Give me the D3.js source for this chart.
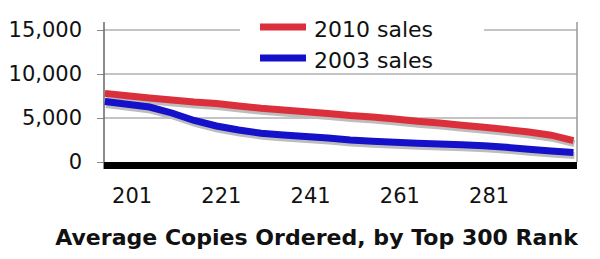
<!DOCTYPE html>
<html>
<head>
    <script src="https://d3js.org/d3.v7.min.js"></script>
    <style>
        body { margin: 0; background: #fff; }
        text { font-family: 'DejaVu Sans', Verdana, sans-serif; fill: #111; }
        .tick text { font-size: 21px; }
        .legend text { font-size: 22px; }
        .title { font-size: 21px; font-weight: bold; }
    </style>
</head>
<body>
<svg id="chart" width="600" height="259"></svg>
<script>
    // ranks read every 5 places off the picture
    const ranks = [195, 200, 205, 210, 215, 220, 225, 230, 235, 240, 245,
                   250, 255, 260, 265, 270, 275, 280, 285, 290, 295, 300];
    const sales2010 = [7800, 7530, 7270, 7050, 6820, 6650, 6360, 6100, 5910, 5700, 5510,
                       5280, 5110, 4890, 4620, 4430, 4170, 3950, 3690, 3410, 3050, 2440];
    const sales2003 = [6880, 6570, 6250, 5570, 4720, 4090, 3640, 3270, 3070, 2900, 2730,
                       2500, 2360, 2240, 2140, 2050, 1950, 1840, 1670, 1440, 1250, 1080];
    const xTicks = [201, 221, 241, 261, 281];
    const yTicks = [0, 5000, 10000, 15000];
    const seriesNames = ["2010 sales", "2003 sales"];
    const seriesColors = ["#dc2f3c", "#1510c9"];

    const svg = d3.select("#chart");
    const plotLeft = 104, plotRight = 577, plotTop = 22;

    const x = d3.scaleLinear().domain([194.8, 300.8]).range([plotLeft, plotRight]);
    const y = d3.scaleLinear().domain([0, 15000]).range([162, 30]);

    // gridlines
    svg.append("g")
        .selectAll("line")
        .data(yTicks.filter(d => d > 0))
        .join("line")
        .attr("x1", plotLeft).attr("x2", plotRight)
        .attr("y1", d => y(d)).attr("y2", d => y(d))
        .attr("stroke", "#8a8a8a").attr("stroke-width", 1);

    // y axis
    const yAxis = svg.append("g")
        .attr("transform", `translate(${plotLeft},0)`)
        .call(d3.axisLeft(y).tickValues(yTicks).tickFormat(d3.format(",")).tickSize(7).tickPadding(15));
    yAxis.select(".domain").remove();
    yAxis.selectAll(".tick line").attr("stroke", "#8a8a8a");
    yAxis.selectAll(".tick text").attr("fill", "#111");

    // frame lines
    svg.append("line").attr("x1", plotLeft).attr("x2", plotLeft).attr("y1", plotTop).attr("y2", y(0) + 7)
        .attr("stroke", "#666").attr("stroke-width", 1.5);
    svg.append("line").attr("x1", plotRight).attr("x2", plotRight).attr("y1", plotTop).attr("y2", y(0))
        .attr("stroke", "#999").attr("stroke-width", 1.5);

    // x axis labels
    const xAxis = svg.append("g")
        .attr("transform", `translate(0,${y(0)})`)
        .call(d3.axisBottom(x).tickValues(xTicks).tickSize(0).tickPadding(26));
    xAxis.select(".domain").remove();
    xAxis.selectAll(".tick text").attr("fill", "#111");

    // thick black base
    svg.append("line")
        .attr("x1", plotLeft).attr("x2", plotRight)
        .attr("y1", y(0) + 3.5).attr("y2", y(0) + 3.5)
        .attr("stroke", "#000").attr("stroke-width", 7);

    // legend box
    const legend = svg.append("g").attr("class", "legend");
    legend.append("rect").attr("x", 240).attr("y", 14).attr("width", 244).attr("height", 56).attr("fill", "#fff");
    seriesNames.forEach((name, i) => {
        const ly = 27 + i * 31;
        legend.append("line").attr("x1", 260).attr("x2", 306).attr("y1", ly).attr("y2", ly)
            .attr("stroke", seriesColors[i]).attr("stroke-width", 7);
        legend.append("text").attr("x", 314).attr("y", ly + 9.5).text(name);
    });

    // lines with shadow
    const line = d3.line().x((d, i) => x(ranks[i])).y(d => y(d));
    [sales2010, sales2003].forEach((vals, i) => {
        svg.append("path").datum(vals)
            .attr("d", line)
            .attr("transform", "translate(1,3)")
            .attr("fill", "none").attr("stroke", "#bdbdbd").attr("stroke-width", 7);
        svg.append("path").datum(vals)
            .attr("d", line)
            .attr("fill", "none").attr("stroke", seriesColors[i]).attr("stroke-width", 7);
    });

    // title fitted to the original width
    const title = svg.append("text").attr("class", "title")
        .attr("x", 316.5).attr("y", 245).attr("text-anchor", "middle")
        .text("Average Copies Ordered, by Top 300 Rank");
    const w = title.node().getComputedTextLength();
    title.style("font-size", (21 * 523 / w).toFixed(2) + "px");
</script>
</body>
</html>
